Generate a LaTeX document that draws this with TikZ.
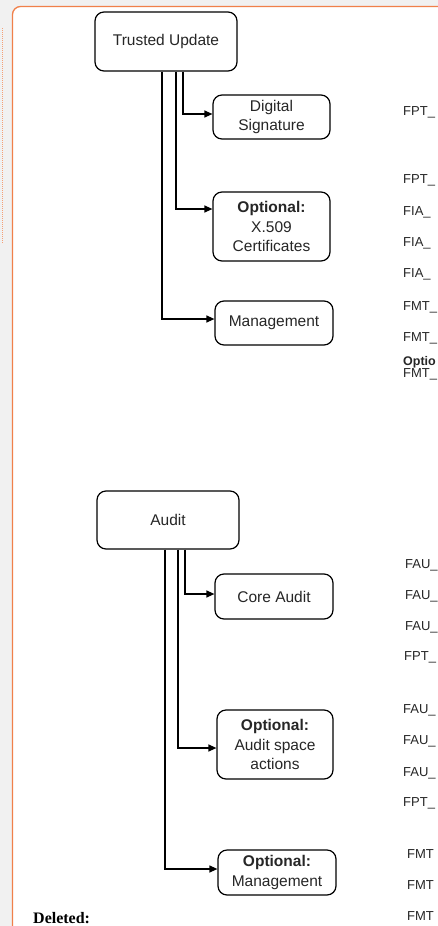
\documentclass[tikz,border=0pt]{standalone}
\usepackage{fontspec}
\setmainfont{Liberation Sans}
\newfontfamily\serifdel{Liberation Serif}
\usetikzlibrary{arrows.meta}
\definecolor{pagegray}{HTML}{F1F1F1}
\definecolor{frameorange}{HTML}{F0804A}
\tikzset{
  box/.style={draw=black, line width=1.2pt, rounded corners=9pt, align=center, inner sep=0pt, text=black!85, font=\fontsize{15.5}{19.5}\selectfont},
  conn/.style={draw=black, line width=1.2pt, -{Triangle[length=8pt,width=7pt]}},
  req/.style={anchor=west, inner sep=0pt, font=\fontsize{13}{15}\selectfont, text=black!85},
}
\begin{document}
\begin{tikzpicture}[x=1pt,y=-1pt]
\useasboundingbox (0,0) rectangle (438,926);
\fill[pagegray] (0,0) rectangle (438,926);
\begin{scope}
\clip (0,0) rectangle (438,926);
\fill[white] (12.5,6.5) [rounded corners=8pt] -- (12.5,940) -- (460,940) -- (460,6.5) -- cycle;
\draw[frameorange, line width=1.3pt, rounded corners=8pt] (12.5,940) -- (12.5,6.5) -- (460,6.5);
\end{scope}
\draw[frameorange!75, line width=1.8pt, dash pattern=on 1pt off 1pt] (2.5,28) -- (2.5,243);

% Trusted Update group
\node[box, minimum width=142pt, minimum height=59pt] (tu) at (166,41.5) {Trusted Update};
\node[box, minimum width=117pt, minimum height=44pt] (ds) at (271.5,117) {Digital\\Signature};
\node[box, minimum width=117pt, minimum height=69pt] (x509) at (271.5,226.5) {\textbf{Optional:}\\X.509\\Certificates};
\node[box, minimum width=118pt, minimum height=44pt] (mg) at (274,323) {Management};

\draw[conn] (tu.south -| 183,0) |- (ds.west |- 0,114);
\draw[conn] (tu.south -| 176,0) |- (x509.west |- 0,209);
\draw[conn] (tu.south -| 162,0) |- (mg.west |- 0,319);

% Audit group
\node[box, minimum width=142pt, minimum height=58pt] (au) at (168,520) {Audit};
\node[box, minimum width=118pt, minimum height=45pt] (ca) at (274,596.5) {Core Audit};
\node[box, minimum width=116pt, minimum height=69pt] (asa) at (275,744.5) {\textbf{Optional:}\\Audit space\\actions};
\node[box, minimum width=118pt, minimum height=45pt] (om) at (277,872.5) {\textbf{Optional:}\\Management};

\draw[conn] (au.south -| 185,0) |- (ca.west |- 0,594);
\draw[conn] (au.south -| 178,0) |- (asa.west |- 0,748);
\draw[conn] (au.south -| 165,0) |- (om.west |- 0,869);

% right column (as far as the reference shows it)
\node[req] (r1) at (403,112) {FPT\_};
\node[req] (r2) at (403,180) {FPT\_};
\node[req] (r3) at (403,212) {FIA\_};
\node[req] (r4) at (403,243) {FIA\_};
\node[req] (r5) at (403,274) {FIA\_};
\node[req] (r6) at (403,307) {FMT\_};
\node[req] (r7) at (403,338) {FMT\_};
\node[req, font=\bfseries\fontsize{12.5}{14}\selectfont] (r8) at (403,362) {Optio};
\node[req] (r9) at (403,374) {FMT\_};
\node[req] (s1) at (405,565) {FAU\_};
\node[req] (s2) at (405,596) {FAU\_};
\node[req] (s3) at (405,627) {FAU\_};
\node[req] (s4) at (404,657) {FPT\_};
\node[req] (s5) at (403,710) {FAU\_};
\node[req] (s6) at (403,741) {FAU\_};
\node[req] (s7) at (403,773) {FAU\_};
\node[req] (s8) at (403,803) {FPT\_};
\node[req] (s9) at (407,854) {FMT};
\node[req] (s10) at (407,885) {FMT};
\node[req] (s11) at (407,916) {FMT};
\node[anchor=base west, inner sep=0pt, font=\serifdel\bfseries\fontsize{16}{18}\selectfont] (del) at (33,923) {Deleted:};
\end{tikzpicture}
\end{document}
